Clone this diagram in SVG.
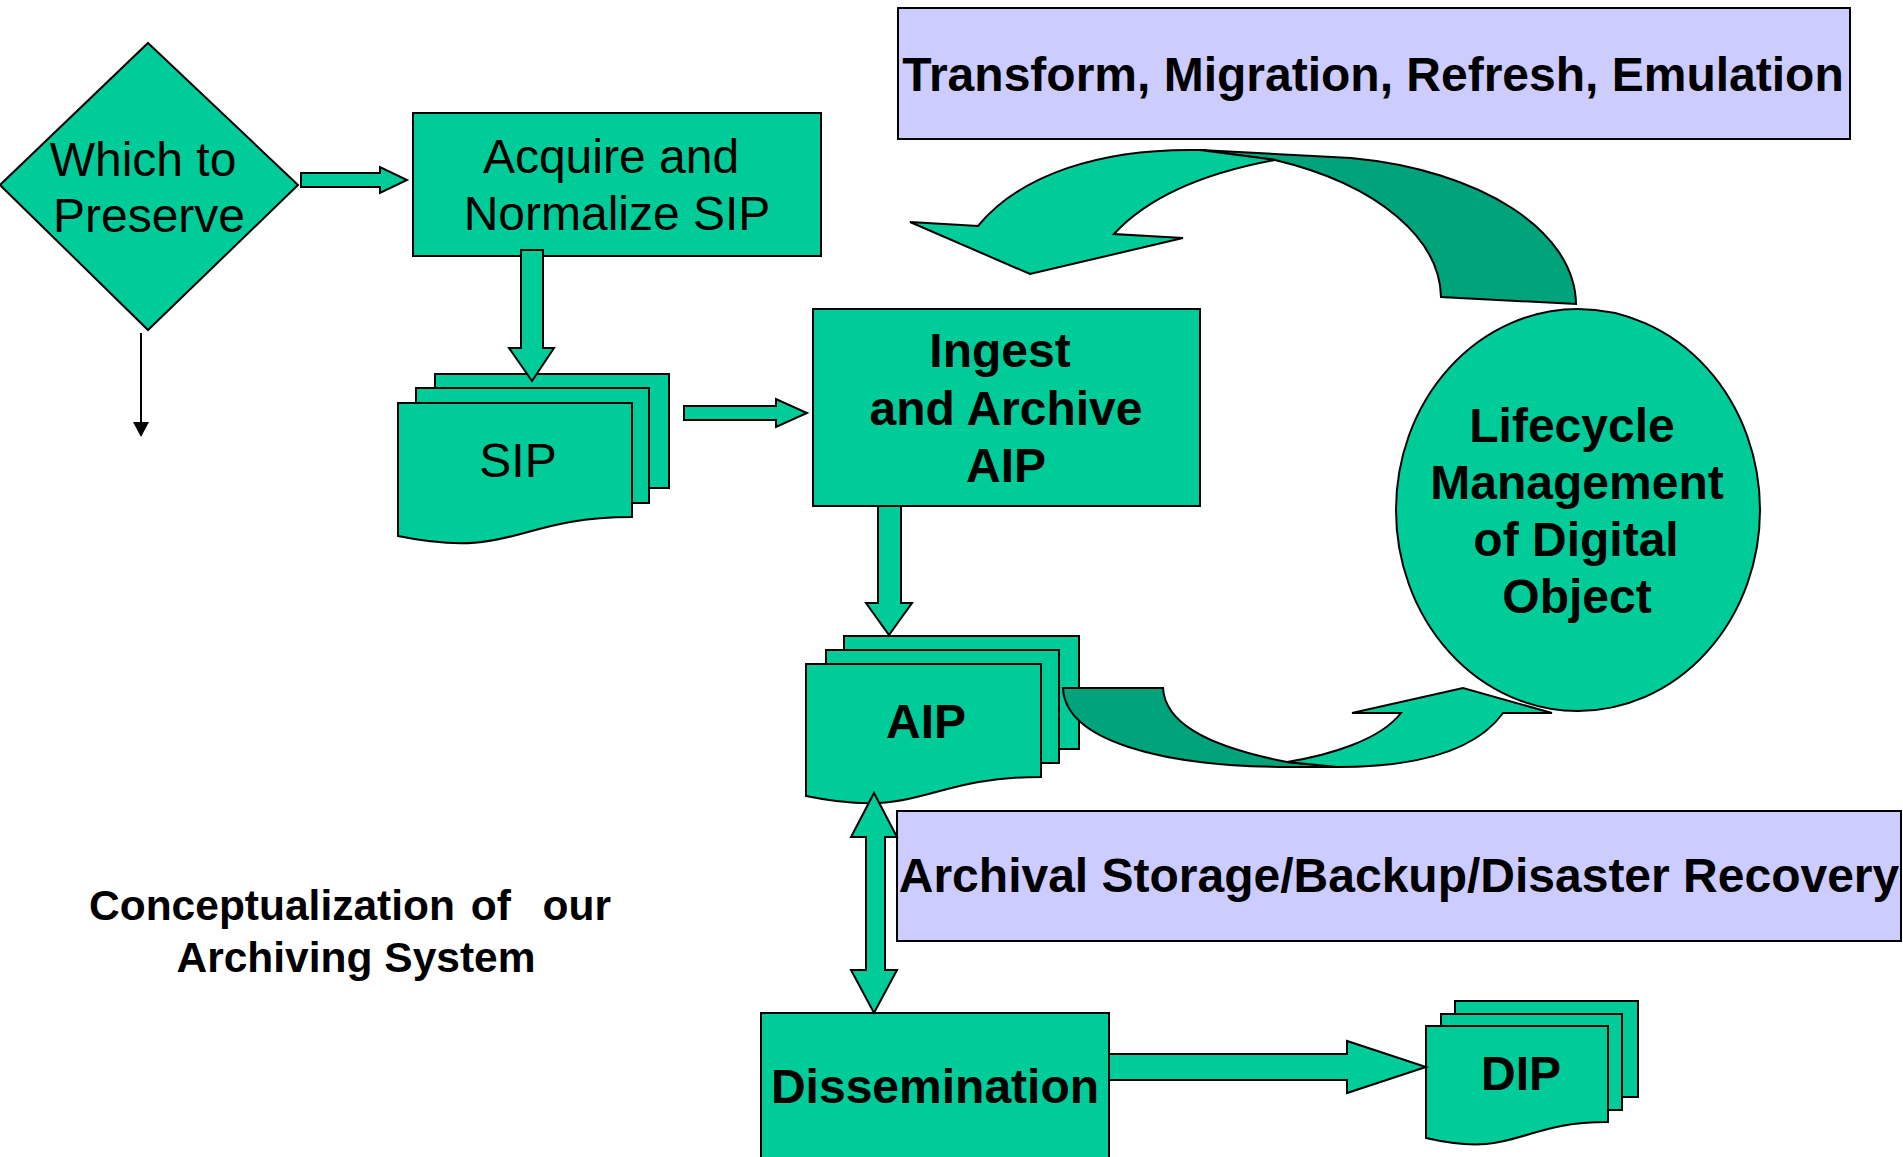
<svg xmlns="http://www.w3.org/2000/svg" width="1903" height="1157" viewBox="0 0 1903 1157">
  <style>
    .shape { fill: #00CC99; stroke: #000; stroke-width: 2; stroke-linejoin: miter; }
    .shade { fill: #00A37A; stroke: #000; stroke-width: 2; }
    .band { fill: #CCCCFF; stroke: #000; stroke-width: 2; }
    .lbl { font-family: "Liberation Sans", Arial, sans-serif; font-size: 48px; fill: #000; text-anchor: middle; }
    .b { font-weight: bold; }
    .cap { font-family: "Liberation Sans", Arial, sans-serif; font-size: 42.5px; font-weight: bold; fill: #000; text-anchor: middle; }
  </style>
  <rect width="1903" height="1157" fill="#fff"/>

  <!-- decision -->
  <g id="which-to-preserve">
    <polygon class="shape" points="148,43 298,185 148,330 0,185"/>
    <text class="lbl" x="143" y="176">Which to</text>
    <text class="lbl" x="149" y="232">Preserve</text>
  </g>

  <g id="acquire">
    <rect class="shape" x="413" y="113" width="408" height="143"/>
    <text class="lbl" x="611" y="173">Acquire and</text>
    <text class="lbl" x="617" y="230">Normalize SIP</text>
  </g>

  <g id="sip">
    <rect class="shape" x="435" y="374" width="234" height="114"/>
    <rect class="shape" x="416" y="388" width="233" height="115"/>
    <path class="shape" d="M398,403 H632 V517 C515,517 515,560 398,536 Z"/>
    <text class="lbl" x="518" y="477">SIP</text>
  </g>

  <g id="ingest">
    <rect class="shape" x="813" y="309" width="387" height="197"/>
    <text class="lbl b" x="1000" y="367">Ingest</text>
    <text class="lbl b" x="1006" y="425">and Archive</text>
    <text class="lbl b" x="1006" y="482">AIP</text>
  </g>

  <g id="aip">
    <rect class="shape" x="844" y="636" width="235" height="113"/>
    <rect class="shape" x="826" y="650" width="233" height="113"/>
    <path class="shape" d="M806,664 H1041 V777 C923,777 923,820 806,796 Z"/>
    <text class="lbl b" x="926" y="738">AIP</text>
  </g>

  <g id="lifecycle">
    <ellipse class="shape" cx="1578" cy="510" rx="182" ry="201"/>
    <text class="lbl b" x="1572" y="442">Lifecycle</text>
    <text class="lbl b" x="1577" y="499">Management</text>
    <text class="lbl b" x="1576" y="556">of Digital</text>
    <text class="lbl b" x="1577" y="613">Object</text>
  </g>

  <g id="transform-band">
    <rect class="band" x="898" y="8" width="952" height="131"/>
    <text class="lbl b" x="1373" y="91">Transform, Migration, Refresh, Emulation</text>
  </g>

  <g id="storage-band">
    <rect class="band" x="897" y="811" width="1004" height="130"/>
    <text class="lbl b" x="1399" y="892">Archival Storage/Backup/Disaster Recovery</text>
  </g>

  <g id="dissemination">
    <rect class="shape" x="761" y="1013" width="348" height="150"/>
    <text class="lbl b" x="935" y="1103">Dissemination</text>
  </g>

  <g id="dip">
    <rect class="shape" x="1455" y="1001" width="183" height="96"/>
    <rect class="shape" x="1441" y="1014" width="181" height="96"/>
    <path class="shape" d="M1426,1026 H1608 V1122 C1517,1122 1517,1159 1426,1138 Z"/>
    <text class="lbl b" x="1521" y="1090">DIP</text>
  </g>

  <g id="caption">
    <text class="cap" x="350" y="920" word-spacing="4" xml:space="preserve">Conceptualization of  our</text>
    <text class="cap" x="356" y="972">Archiving System</text>
  </g>

  <g id="connectors">
    <!-- decision to acquire -->
    <polygon class="shape" points="301,173 380,173 380,167 407,180 380,193 380,187 301,187"/>
    <!-- thin outlet below the decision -->
    <line x1="141" y1="333" x2="141" y2="424" stroke="#000" stroke-width="2"/>
    <polygon points="133,422 149,422 141,437" fill="#000"/>
    <!-- acquire to SIP -->
    <polygon class="shape" points="521,250 543,250 543,348 554,348 532,381 509,348 521,348"/>
    <!-- SIP to ingest -->
    <polygon class="shape" points="684,406 776,406 776,399 807,413 776,427 776,420 684,420"/>
    <!-- ingest to AIP -->
    <polygon class="shape" points="878,506 901,506 901,603 912,603 889,635 866,603 878,603"/>
    <!-- AIP and dissemination, both ways -->
    <polygon class="shape" points="874,793 897,837 885,837 885,970 897,970 874,1013 851,970 866,970 866,837 851,837"/>
    <!-- dissemination to DIP -->
    <polygon class="shape" points="1109,1054 1347,1054 1347,1041 1426,1067 1347,1093 1347,1080 1109,1080"/>

    <!-- curved ribbon from lifecycle back over the top -->
    <path class="shade" d="M1200,150 L1351,158 C1480,170 1575,230 1576,304 L1441,297 C1440,240 1380,185 1275,160 Z"/>
    <path class="shape" d="M910,222 L978,226 C1020,175 1100,148 1200,150 L1275,160 C1210,172 1150,195 1114,234 L1183,238 L1030,274 Z"/>

    <!-- curved ribbon from AIP round to lifecycle -->
    <path class="shade" d="M1063,688 L1163,688 C1165,720 1200,745 1287,762 L1337,767 L1290,767 C1160,767 1065,740 1063,688 Z"/>
    <path class="shape" d="M1287,762 C1330,755 1380,740 1401,713 L1352,713 L1463,688 L1552,713 L1503,713 C1480,745 1430,767 1337,767 Z"/>
  </g>
</svg>
